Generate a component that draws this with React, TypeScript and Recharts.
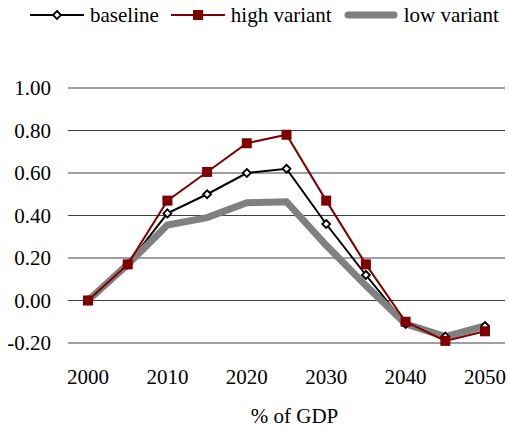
import React from 'react';
import { LineChart, Line, XAxis, YAxis, CartesianGrid } from 'recharts';

const years = [2000, 2005, 2010, 2015, 2020, 2025, 2030, 2035, 2040, 2045, 2050];
const baseline = [0, 0.17, 0.41, 0.5, 0.6, 0.62, 0.36, 0.12, -0.11, -0.17, -0.12];
const highVariant = [0, 0.17, 0.47, 0.605, 0.74, 0.78, 0.47, 0.17, -0.1, -0.19, -0.145];
const lowVariant = [0, 0.17, 0.355, 0.39, 0.46, 0.465, 0.26, 0.07, -0.11, -0.17, -0.12];
const yTicks = [-0.2, 0, 0.2, 0.4, 0.6, 0.8, 1.0];

const FONT = "'Liberation Serif', 'Times New Roman', Times, 'DejaVu Serif', serif";
const RED = '#800000';
const GREY = '#808080';

const data = years.map((year, i) => ({
  year,
  baseline: baseline[i],
  high: highVariant[i],
  low: lowVariant[i],
}));

const Diamond = (props: any) => {
  const { cx, cy } = props;
  if (cx == null || cy == null) return null;
  const r = 4;
  return (
    <polygon
      points={`${cx},${cy - r} ${cx + r},${cy} ${cx},${cy + r} ${cx - r},${cy}`}
      fill="#fff"
      stroke="#000"
      strokeWidth={1.8}
    />
  );
};

const Square = (props: any) => {
  const { cx, cy } = props;
  if (cx == null || cy == null) return null;
  return <rect x={cx - 5} y={cy - 5} width={10} height={10} fill={RED} />;
};

function ChartLegend() {
  const item = (icon: React.ReactNode, label: string) => (
    <div style={{ display: 'flex', alignItems: 'center', marginRight: 12 }}>
      <svg width={54} height={14} style={{ marginRight: 6 }}>
        {icon}
      </svg>
      <span>{label}</span>
    </div>
  );
  return (
    <div
      style={{
        position: 'absolute',
        top: 3,
        left: 30,
        display: 'flex',
        fontFamily: FONT,
        fontSize: 21,
        lineHeight: '24px',
        color: '#000',
        whiteSpace: 'nowrap',
      }}
    >
      {item(
        <>
          <line x1={0} y1={7} x2={54} y2={7} stroke="#000" strokeWidth={2} />
          <Diamond cx={27} cy={7} />
        </>,
        'baseline'
      )}
      {item(
        <>
          <line x1={0} y1={7} x2={54} y2={7} stroke={RED} strokeWidth={2} />
          <Square cx={27} cy={7} />
        </>,
        'high variant'
      )}
      {item(
        <line x1={4} y1={7} x2={50} y2={7} stroke={GREY} strokeWidth={7} strokeLinecap="round" />,
        'low variant'
      )}
    </div>
  );
}

export default function App() {
  return (
    <div style={{ position: 'absolute', left: 0, top: 0, width: 509, height: 429, background: '#fff', fontFamily: FONT }}>
      <ChartLegend />
      <LineChart width={509} height={429} data={data} margin={{ top: 88, right: 4, left: 0, bottom: 0 }} style={{ fontFamily: FONT }}>
        <CartesianGrid vertical={false} stroke="#404040" />
        <XAxis
          dataKey="year"
          type="category"
          interval={1}
          padding={{ left: 20, right: 20 }}
          axisLine={false}
          tickLine={false}
          tickSize={0}
          tickMargin={26}
          height={86}
          tick={{ fontFamily: FONT, fontSize: 21, fill: '#000' }}
          label={{ value: '% of GDP', position: 'insideBottom', offset: 6, dx: 8, fontFamily: FONT, fontSize: 21, fill: '#000' }}
        />
        <YAxis
          type="number"
          domain={[-0.2, 1.0]}
          ticks={yTicks}
          width={68}
          axisLine={false}
          tickLine={false}
          tickSize={0}
          tickMargin={17}
          tickFormatter={(v: number) => v.toFixed(2)}
          tick={{ fontFamily: FONT, fontSize: 21, fill: '#000' }}
        />
        <Line dataKey="baseline" stroke="#000" strokeWidth={2} dot={<Diamond />} isAnimationActive={false} />
        <Line dataKey="low" stroke={GREY} strokeWidth={7} dot={false} isAnimationActive={false} />
        <Line dataKey="high" stroke={RED} strokeWidth={2} dot={<Square />} isAnimationActive={false} />
      </LineChart>
    </div>
  );
}
